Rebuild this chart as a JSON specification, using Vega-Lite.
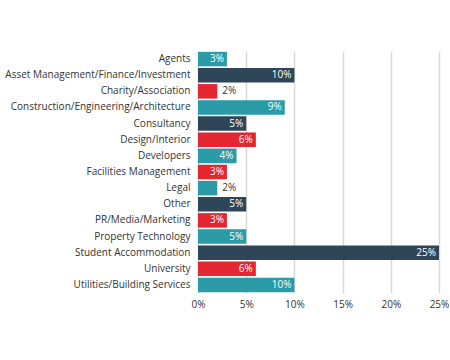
{
  "$schema": "https://vega.github.io/schema/vega-lite/v6.json",
  "autosize": "none",
  "width": 241,
  "height": 242,
  "padding": {"left": 198, "top": 51, "right": 11, "bottom": 67},
  "background": "white",
  "config": {"view": {"stroke": null}, "font": "Open Sans"},
  "data": {"values": [
    {"cat": "Agents", "v": 3, "grp": "teal"},
    {"cat": "Asset Management/Finance/Investment", "v": 10, "grp": "navy"},
    {"cat": "Charity/Association", "v": 2, "grp": "red"},
    {"cat": "Construction/Engineering/Architecture", "v": 9, "grp": "teal"},
    {"cat": "Consultancy", "v": 5, "grp": "navy"},
    {"cat": "Design/Interior", "v": 6, "grp": "red"},
    {"cat": "Developers", "v": 4, "grp": "teal"},
    {"cat": "Facilities Management", "v": 3, "grp": "red"},
    {"cat": "Legal", "v": 2, "grp": "teal"},
    {"cat": "Other", "v": 5, "grp": "navy"},
    {"cat": "PR/Media/Marketing", "v": 3, "grp": "red"},
    {"cat": "Property Technology", "v": 5, "grp": "teal"},
    {"cat": "Student Accommodation", "v": 25, "grp": "navy"},
    {"cat": "University", "v": 6, "grp": "red"},
    {"cat": "Utilities/Building Services", "v": 10, "grp": "teal"}
  ]},
  "encoding": {
    "y": {"field": "cat", "type": "nominal", "sort": null,
      "scale": {"paddingInner": 0.1, "paddingOuter": 0.05},
      "axis": {"title": null, "domain": false, "ticks": false, "labelFontSize": 10, "labelColor": "#333333", "labelPadding": 8, "labelLimit": 300}},
    "x": {"field": "v", "type": "quantitative",
      "scale": {"domain": [0, 25], "nice": false},
      "axis": {"title": null, "domain": false, "ticks": false, "values": [0, 5, 10, 15, 20, 25], "labelExpr": "datum.value + '%'", "labelFontSize": 10, "labelColor": "#333333", "labelPadding": 6, "gridColor": "#d9d9d9", "gridWidth": 1.5, "labelFlush": false}}
  },
  "layer": [
    {"mark": {"type": "bar"},
     "encoding": {"color": {"field": "grp", "type": "nominal", "legend": null,
       "scale": {"domain": ["teal", "navy", "red"], "range": ["#2a9ba7", "#2f4659", "#e3262f"]}}}},
    {"transform": [{"filter": "datum.v > 2"}],
     "mark": {"type": "text", "align": "right", "dx": -3, "color": "white", "fontSize": 10, "text": {"expr": "datum.v + '%'"}},
     "encoding": {}},
    {"transform": [{"filter": "datum.v <= 2"}],
     "mark": {"type": "text", "align": "left", "dx": 5, "color": "#333333", "fontSize": 10, "text": {"expr": "datum.v + '%'"}},
     "encoding": {}}
  ]
}
